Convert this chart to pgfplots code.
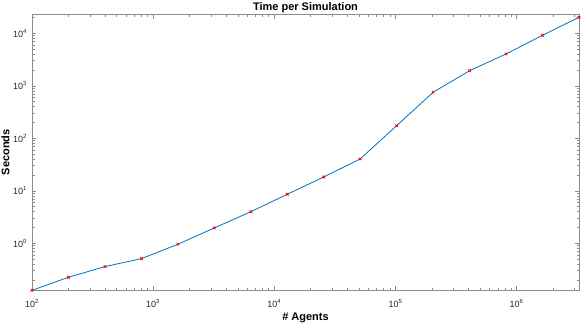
\documentclass[border=0pt]{standalone}
\usepackage{fontspec}
\setmainfont{Liberation Sans}
\usepackage{pgfplots}
\pgfplotsset{compat=1.18}
\definecolor{mblue}{rgb}{0,0.447,0.741}
\definecolor{axgray}{gray}{0.55}
\begin{document}
\begin{tikzpicture}
\begin{axis}[
  name=ax,
  xmode=log, ymode=log,
  scale only axis, width=547pt, height=276pt,
  xmin=100, xmax=3276800, ymin=0.127, ymax=23000,
  axis line style={axgray, line width=0.5pt},
  every tick/.style={axgray, line width=0.5pt},
  major tick length=4.5pt, minor tick length=2.5pt,
  tick align=inside,
  xtick={100,1000,10000,100000,1000000},
  xticklabels={10\textsuperscript{2},10\textsuperscript{3},10\textsuperscript{4},10\textsuperscript{5},10\textsuperscript{6}},
  minor xtick={200,300,400,500,600,700,800,900,2000,3000,4000,5000,6000,7000,8000,9000,20000,30000,40000,50000,60000,70000,80000,90000,200000,300000,400000,500000,600000,700000,800000,900000,2000000,3000000},
  ytick={1,10,100,1000,10000},
  yticklabels={10\textsuperscript{0},10\textsuperscript{1},10\textsuperscript{2},10\textsuperscript{3},10\textsuperscript{4}},
  minor ytick={0.2,0.3,0.4,0.5,0.6,0.7,0.8,0.9,2,3,4,5,6,7,8,9,20,30,40,50,60,70,80,90,200,300,400,500,600,700,800,900,2000,3000,4000,5000,6000,7000,8000,9000,20000},
  tick label style={font=\fontsize{9}{10}\selectfont, black!85},
  xticklabel style={anchor=base, yshift=-17pt},
  yticklabel style={anchor=east, xshift=-1.5pt},
  every axis title shift=0pt,
  title={Time per Simulation},
  title style={font=\fontsize{11}{12}\selectfont\bfseries, at={(axis description cs:0.5,1)}, anchor=base, yshift=3.6pt},
  xlabel={\# Agents},
  ylabel={Seconds},
  xlabel style={font=\fontsize{11}{12}\selectfont\bfseries, at={(axis description cs:0.5,0)}, anchor=base, yshift=-30pt},
  ylabel style={font=\fontsize{11}{12}\selectfont\bfseries, at={(axis description cs:0,0.5)}, anchor=center, yshift=26.5pt},
]
\addplot[mblue, line width=0.8pt, mark=x, mark size=1.8pt, mark options={red, line width=0.8pt}] coordinates {
  (100,0.127)
  (200,0.225)
  (400,0.359)
  (800,0.509)
  (1600,0.957)
  (3200,1.96)
  (6400,3.99)
  (12800,8.57)
  (25600,18.3)
  (51200,40.4)
  (102400,174)
  (204800,752)
  (409600,1940)
  (819200,4040)
  (1638400,9160)
  (3276800,20200)
};
\end{axis}
\pgfresetboundingbox
\path[use as bounding box] ([shift={(-32pt,-33pt)}]ax.south west) rectangle ([shift={(2pt,14.3pt)}]ax.north east);
\end{tikzpicture}
\end{document}
